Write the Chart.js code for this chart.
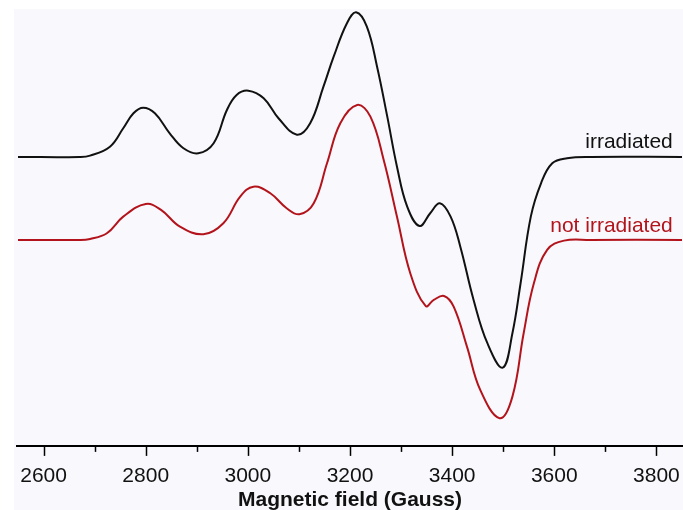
<!DOCTYPE html>
<html>
<head>
<meta charset="utf-8">
<script src="https://cdn.jsdelivr.net/npm/chart.js@4.4.1/dist/chart.umd.min.js"></script>
<style>
  body { margin: 0; background: #ffffff; }
  canvas { display: block; }
</style>
</head>
<body>
<canvas id="epr" width="683" height="510"></canvas>
<script>
// Field values (Gauss) and signal (a.u.)
const irrField = [2550, 2670, 2691, 2730, 2756, 2776, 2795, 2818, 2847, 2874, 2903, 2933, 2959, 2978, 3001, 3031, 3060, 3096, 3122, 3148, 3168, 3194, 3212, 3233, 3253, 3273, 3292, 3312, 3336, 3357, 3376, 3397, 3416, 3442, 3469, 3499, 3518, 3534, 3554, 3574, 3596, 3625, 3671, 3850];
const irrSignal = [289, 289, 290.3, 299.3, 317.7, 332.7, 338.3, 332.7, 312.7, 297.7, 292.7, 302.7, 336, 351, 355.3, 347.7, 327.7, 311.3, 322.7, 359.3, 389.3, 422.7, 433.7, 419.3, 379.3, 329.3, 279.3, 239.3, 220, 232.7, 242.7, 229.3, 199.3, 146, 102.7, 78.3, 112.7, 162.7, 229.3, 262.7, 282.7, 287.7, 289, 289];

const notIrrField = [2550, 2670, 2691, 2724, 2756, 2800, 2830, 2867, 2913, 2952, 2985, 3011, 3044, 3076, 3101, 3129, 3155, 3181, 3214, 3240, 3266, 3292, 3318, 3348, 3364, 3384, 3403, 3429, 3455, 3493, 3518, 3540, 3560, 3586, 3619, 3671, 3850];
const notIrrSignal = [206, 206, 207, 212.7, 229.3, 242, 236, 219.3, 211.7, 222.7, 249.3, 259.3, 252.7, 237.7, 231.7, 242.7, 282.7, 322.7, 341, 329.3, 286, 229.3, 172.7, 140, 146, 150, 139.3, 99.3, 56, 27.7, 49.3, 112.7, 162.7, 196, 205.3, 206, 206];

const majorTicks = [2600, 2800, 3000, 3200, 3400, 3600, 3800];
const minorTicks = [2700, 2900, 3100, 3300, 3500, 3700];

const seriesNames = ["irradiated", "not irradiated"];
const seriesColors = ["#111111", "#b3141c"];

function toPoints(xs, ys) {
    return xs.map((x, i) => ({ x: x, y: ys[i] }));
}

// light plot background, white strip at top and left
const backdrop = {
    id: "backdrop",
    beforeDraw(chart) {
        const ctx = chart.ctx;
        ctx.save();
        ctx.fillStyle = "#f9f9fd";
        ctx.fillRect(14, 9, chart.width - 14, chart.height - 9);
        ctx.restore();
    }
};

// tick marks (long major, short minor) + series labels
const extras = {
    id: "extras",
    afterDraw(chart) {
        const ctx = chart.ctx;
        const xs = chart.scales.x;
        const ys = chart.scales.y;
        ctx.save();
        ctx.strokeStyle = "#000";
        ctx.lineWidth = 1.5;
        const marks = majorTicks.map(v => [v, 10]).concat(minorTicks.map(v => [v, 6]));
        for (const [v, len] of marks) {
            const px = Math.round(xs.getPixelForValue(v)) + 0.5;
            ctx.beginPath();
            ctx.moveTo(px, xs.top);
            ctx.lineTo(px, xs.top + len);
            ctx.stroke();
        }
        ctx.font = "21px 'Liberation Sans', Arial, sans-serif";
        ctx.textAlign = "right";
        ctx.textBaseline = "alphabetic";
        ctx.fillStyle = seriesColors[0];
        ctx.fillText(seriesNames[0], xs.getPixelForValue(3832), ys.getPixelForValue(298));
        ctx.fillStyle = seriesColors[1];
        ctx.fillText(seriesNames[1], xs.getPixelForValue(3832), ys.getPixelForValue(213.5));
        ctx.restore();
    }
};

new Chart(document.getElementById("epr"), {
    type: "line",
    data: {
        datasets: [
            {
                label: seriesNames[0],
                data: toPoints(irrField, irrSignal),
                borderColor: seriesColors[0],
                borderWidth: 2,
                pointRadius: 0,
                tension: 0.4,
                fill: false
            },
            {
                label: seriesNames[1],
                data: toPoints(notIrrField, notIrrSignal),
                borderColor: seriesColors[1],
                borderWidth: 2,
                pointRadius: 0,
                tension: 0.4,
                fill: false
            }
        ]
    },
    options: {
        responsive: false,
        animation: false,
        layout: { padding: { left: 17, right: 0, top: 9, bottom: 0 } },
        plugins: {
            legend: { display: false },
            tooltip: { enabled: false }
        },
        scales: {
            x: {
                type: "linear",
                min: 2548,
                max: 3852,
                afterBuildTicks: scale => { scale.ticks = majorTicks.map(v => ({ value: v })); },
                border: { display: true, color: "#000", width: 2 },
                grid: { drawOnChartArea: false, drawTicks: true, tickLength: 20, tickColor: "rgba(0,0,0,0)" },
                ticks: {
                    color: "#111",
                    padding: 0,
                    maxRotation: 0,
                    callback: value => String(value),
                    font: { family: "'Liberation Sans', Arial, sans-serif", size: 21, lineHeight: 1 }
                },
                title: {
                    display: true,
                    text: "Magnetic field (Gauss)",
                    color: "#111",
                    padding: { top: 2, bottom: -2 },
                    font: { family: "'Liberation Sans', Arial, sans-serif", size: 21, weight: "bold", lineHeight: 1.1 }
                }
            },
            y: {
                display: false,
                min: 0,
                max: 437
            }
        }
    },
    plugins: [backdrop, extras]
});
</script>
</body>
</html>
